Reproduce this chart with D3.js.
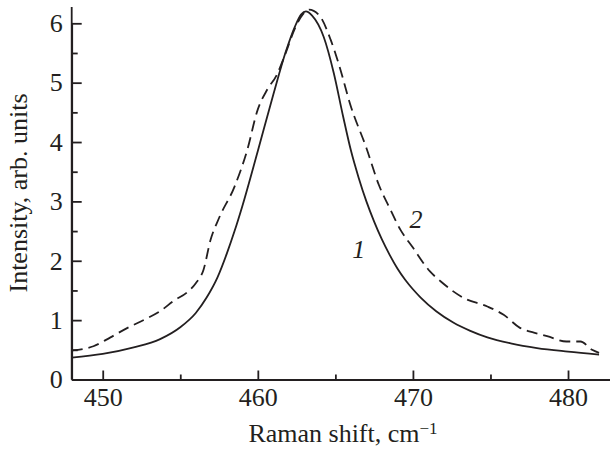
<!DOCTYPE html>
<html>
<head>
<meta charset="utf-8">
<script src="https://cdn.jsdelivr.net/npm/d3@7"></script>
<style>
  body { margin: 0; background: #fff; }
  text { font-family: "Liberation Serif", "Times New Roman", serif; fill: #231f20; }
  .axis_r path, .axis_r line { stroke: #231f20; stroke-width: 1.8px; }
  .axis_r text { font-size: 26px; font-family: "Liberation Serif", "Times New Roman", serif; fill: #231f20; }
</style>
</head>
<body>
<div id="chart"></div>
<script>
// Raman spectra, curve 1 (solid) and curve 2 (dashed)
var shift_1 = [448.0, 450.0, 452.0, 453.7, 455.0, 456.0, 456.7, 457.4, 458.0, 458.5, 459.0, 460.0, 461.0, 461.8, 462.4, 462.8, 463.1, 463.5, 464.25, 464.9, 465.5, 466.0, 466.5, 467.0, 467.5, 468.0, 468.5, 469.0, 469.5, 470.0, 470.5, 471.5, 472.6, 473.7, 474.8, 476.3, 478.0, 480.0, 482.0];
var intensity_1 = [0.37, 0.43, 0.54, 0.68, 0.88, 1.12, 1.38, 1.72, 2.12, 2.50, 2.92, 3.85, 4.80, 5.52, 5.95, 6.15, 6.20, 6.13, 5.77, 5.16, 4.43, 3.86, 3.40, 3.00, 2.66, 2.36, 2.10, 1.87, 1.68, 1.52, 1.38, 1.15, 0.96, 0.82, 0.71, 0.61, 0.53, 0.47, 0.42];

var shift_2 = [448.0, 449.4, 450.5, 451.6, 452.7, 453.7, 454.6, 455.4, 456.0, 456.5, 456.95, 457.5, 458.5, 459.3, 460.0, 460.6, 461.2, 461.8, 462.4, 462.9, 463.3, 464.0, 464.7, 465.2, 466.0, 467.0, 467.8, 468.55, 469.2, 469.95, 471.1, 471.8, 473.3, 474.8, 475.85, 476.9, 477.8, 478.65, 479.9, 480.8, 481.55, 482.0];
var intensity_2 = [0.49, 0.56, 0.71, 0.87, 1.01, 1.15, 1.33, 1.46, 1.62, 1.85, 2.35, 2.72, 3.25, 3.85, 4.55, 4.88, 5.12, 5.50, 5.92, 6.15, 6.23, 6.12, 5.72, 5.33, 4.60, 3.90, 3.28, 2.86, 2.52, 2.24, 1.82, 1.65, 1.37, 1.23, 1.09, 0.87, 0.79, 0.73, 0.64, 0.64, 0.50, 0.45];

var yTicks = [0, 1, 2, 3, 4, 5, 6];
var yMinor = [0.5, 1.5, 2.5, 3.5, 4.5, 5.5];
var xTicks = [450, 460, 470, 480];
var xMinor = [455, 465, 475];

var curveLabels = [
  {name: "1", x: 466.5, y: 2.05},
  {name: "2", x: 470.2, y: 2.55}
];

var width_r = 610, height_r = 452;
var margin_r = {left: 71.7, top: 7, bottom: 72.5};

var svg_r = d3.select("#chart")
    .append("svg")
    .attr("width", width_r)
    .attr("height", height_r);

var x_scale_r = d3.scaleLinear()
    .domain([448, 448 + (width_r - margin_r.left) / 15.51])
    .range([margin_r.left, width_r]);

var y_scale_r = d3.scaleLinear()
    .domain([0, 6])
    .range([height_r - margin_r.bottom, 23.3]);

var line_r = d3.line()
    .curve(d3.curveMonotoneX)
    .x(function(d) { return x_scale_r(d[0]); })
    .y(function(d) { return y_scale_r(d[1]); });

// minor ticks first, major axes on top
svg_r.append("g")
    .attr("class", "axis_r")
    .attr("transform", "translate(" + margin_r.left + ",0)")
    .call(d3.axisLeft(y_scale_r).tickValues(yMinor).tickSizeInner(-6).tickSizeOuter(0).tickFormat(""))
    .select(".domain").remove();

svg_r.append("g")
    .attr("class", "axis_r")
    .attr("transform", "translate(0," + y_scale_r(0) + ")")
    .call(d3.axisBottom(x_scale_r).tickValues(xMinor).tickSizeInner(-5).tickSizeOuter(0).tickFormat(""))
    .select(".domain").remove();

svg_r.append("g")
    .attr("class", "axis_r x")
    .attr("transform", "translate(0," + y_scale_r(0) + ")")
    .call(d3.axisBottom(x_scale_r).tickValues(xTicks).tickSizeInner(-9).tickSizeOuter(0).tickPadding(8).tickFormat(d3.format("d")));

svg_r.append("g")
    .attr("class", "axis_r y")
    .attr("transform", "translate(" + margin_r.left + ",0)")
    .call(d3.axisLeft(y_scale_r).tickValues(yTicks).tickSizeInner(-10).tickSizeOuter(0).tickPadding(9).tickFormat(d3.format("d")));

// y axis line runs a bit above the last tick
svg_r.append("line")
    .attr("x1", margin_r.left)
    .attr("x2", margin_r.left)
    .attr("y1", margin_r.top)
    .attr("y2", y_scale_r(0))
    .style("stroke", "#231f20")
    .style("stroke-width", 1.8);

svg_r.append("path")
    .datum(d3.zip(shift_1, intensity_1))
    .attr("d", line_r)
    .style("fill", "none")
    .style("stroke", "#231f20")
    .style("stroke-width", 1.8);

svg_r.append("path")
    .datum(d3.zip(shift_2, intensity_2))
    .attr("d", line_r)
    .style("fill", "none")
    .style("stroke", "#231f20")
    .style("stroke-width", 1.8)
    .style("stroke-dasharray", "11, 6");

svg_r.selectAll(".clabel_r")
    .data(curveLabels)
    .enter()
    .append("text")
    .attr("class", "clabel_r")
    .attr("x", function(d) { return x_scale_r(d.x); })
    .attr("y", function(d) { return y_scale_r(d.y); })
    .attr("text-anchor", "middle")
    .style("font-size", "26px")
    .style("font-style", "italic")
    .text(function(d) { return d.name; });

svg_r.append("text")
    .attr("transform", "translate(27,193) rotate(-90)")
    .attr("text-anchor", "middle")
    .style("font-size", "26px")
    .text("Intensity, arb. units");

var xtitle_r = svg_r.append("text")
    .attr("x", 343)
    .attr("y", 442)
    .attr("text-anchor", "middle")
    .style("font-size", "26px");
xtitle_r.append("tspan").text("Raman shift, cm");
xtitle_r.append("tspan")
    .attr("dy", "-0.45em")
    .style("font-size", "17px")
    .text("\u22121");
</script>
</body>
</html>
